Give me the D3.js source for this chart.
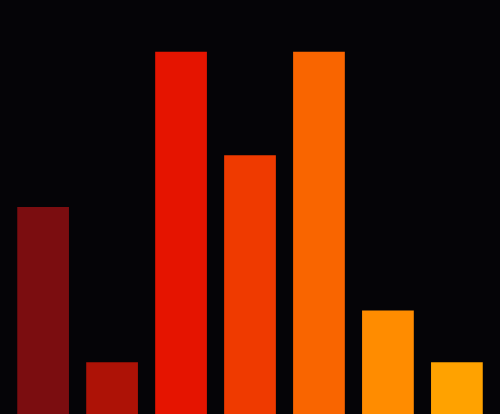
<!DOCTYPE html>
<html><head><meta charset="utf-8">
<script src="https://cdn.jsdelivr.net/npm/d3@7"></script>
<style>html,body{margin:0;padding:0;background:#050407;overflow:hidden}</style>
</head><body>
<svg id="c" width="500" height="414"></svg>
<script>
const categories = ["A","B","C","D","E","F","G"];
const values = [4, 1, 7, 5, 7, 2, 1];
const colors = ["#7b0d10","#ad1206","#e51400","#ef3a00","#f96500","#ff8c00","#ffa200"];

const W = 500, H = 414;
const svg = d3.select("#c");
svg.append("rect").attr("width", W).attr("height", H).attr("fill", "#050407");
const x = d3.scaleBand().domain(categories).range([0, W]).paddingInner(0.25).paddingOuter(0.25);
const y = d3.scaleLinear().domain([0, 8]).range([H, 0]);
svg.selectAll("rect.bar").data(values).join("rect")
  .attr("class", "bar")
  .attr("x", (d, i) => x(categories[i]))
  .attr("y", d => y(d))
  .attr("width", x.bandwidth())
  .attr("height", d => H - y(d))
  .attr("fill", (d, i) => colors[i]);
</script>
</body></html>
